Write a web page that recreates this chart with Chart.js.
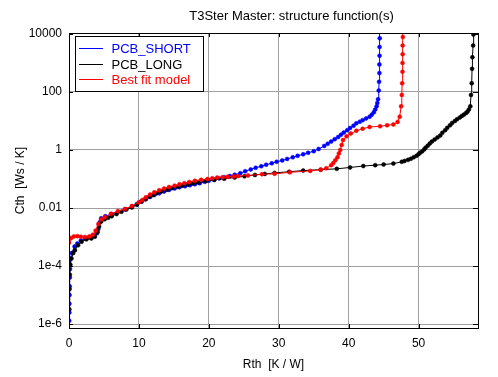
<!DOCTYPE html>
<html>
<head>
<meta charset="utf-8">
<script src="https://cdn.jsdelivr.net/npm/chart.js@4.4.1/dist/chart.umd.min.js"></script>
<style>
  html, body { margin: 0; padding: 0; background: #fff; }
  #wrap { width: 498px; height: 377px; }
</style>
</head>
<body>
<div id="wrap"><canvas id="chart" width="498" height="377"></canvas></div>
<script>
//..series: Rth [K/W] and Cth [Ws/K]
const shortRth = [0.03, 0.05, 0.06, 0.08, 0.1, 0.12, 0.15, 0.2, 0.4, 0.8, 1.2, 1.7, 2.3, 3.0, 3.6, 4.0, 4.2, 4.4, 4.6, 5.2,
    6.1, 7.0, 8.0, 9.0, 9.7, 10.4, 11.0, 11.6, 12.2, 12.9, 13.6, 14.3, 15.1, 15.8, 16.6, 17.3, 18.0, 18.7, 19.4, 20.0,
    20.7, 21.5, 22.2, 23.0, 23.7, 24.5, 25.2, 26.0, 26.7, 27.5, 28.2, 29.0, 29.7, 30.5, 31.2, 32.0, 32.7, 33.5, 34.2, 35.0,
    35.7, 36.5, 37.0, 37.5, 38.0, 38.5, 38.9, 39.3, 39.8, 40.2, 40.7, 41.1, 41.6, 42.0, 42.5, 43.0, 43.3, 43.6, 43.8, 44.0,
    44.1, 44.2, 44.3, 44.35, 44.4, 44.4, 44.42, 44.42, 44.45, 44.45];
const shortCth = [1.3e-6, 2.5e-6, 5.0e-6, 1.0e-5, 2.0e-5, 4.0e-5, 7.9e-5, 1.8e-4, 2.8e-4, 4.7e-4, 6.0e-4, 7.6e-4, 8.9e-4, 1.0e-3, 1.1e-3, 1.35e-3, 1.9e-3, 3.2e-3, 4.4e-3, 5.2e-3,
    6.2e-3, 7.4e-3, 8.9e-3, 0.0112, 0.0135, 0.0165, 0.020, 0.024, 0.028, 0.032, 0.037, 0.042, 0.047, 0.052, 0.056, 0.061, 0.066, 0.072, 0.080, 0.087,
    0.095, 0.105, 0.115, 0.126, 0.140, 0.158, 0.185, 0.214, 0.243, 0.275, 0.31, 0.347, 0.39, 0.437, 0.49, 0.56, 0.63, 0.71, 0.80, 0.91,
    1.08, 1.38, 1.63, 1.95, 2.35, 2.8, 3.35, 4.0, 4.8, 5.75, 6.9, 8.3, 9.5, 10.7, 12.3, 14.1, 16.5, 20, 25, 32,
    42, 56, 112, 224, 447, 890, 1780, 3550, 7080, 14100];

const longRth = [0.05, 0.08, 0.12, 0.2, 0.35, 0.6, 0.85, 1.3, 1.8, 2.5, 3.2, 3.7, 4.1, 4.3, 4.6, 5.1, 5.6, 6.1, 6.8, 7.5,
    8.2, 9.0, 9.7, 10.3, 10.9, 11.5, 12.0, 12.5, 13.2, 14.0, 14.7, 15.5, 16.2, 17.0, 17.7, 18.5, 19.6, 20.8, 22.2, 23.7,
    25.1, 26.6, 28.0, 29.4, 31.5, 33.5, 36.0, 38.3, 40.2, 42.1, 43.8, 45.0, 46.4, 47.6, 48.0, 48.5, 48.9, 49.3, 49.7, 50.0,
    50.2, 50.5, 50.8, 51.0, 51.3, 51.6, 51.9, 52.3, 52.7, 53.1, 53.4, 53.8, 54.1, 54.5, 54.8, 55.2, 55.5, 55.9, 56.2, 56.5,
    56.8, 57.0, 57.2, 57.4, 57.5, 57.6, 57.65, 57.7, 57.8, 57.85, 57.9];
const longCth = [3.2e-6, 1.6e-5, 5.0e-5, 1.1e-4, 1.8e-4, 2.8e-4, 3.5e-4, 5.2e-4, 6.9e-4, 8.3e-4, 8.9e-4, 1.02e-3, 1.5e-3, 2.3e-3, 3.4e-3, 4.1e-3, 4.6e-3, 5.2e-3, 6.2e-3, 7.4e-3,
    8.8e-3, 0.0105, 0.013, 0.0166, 0.020, 0.025, 0.028, 0.032, 0.037, 0.043, 0.048, 0.054, 0.059, 0.065, 0.070, 0.076, 0.085, 0.093, 0.102, 0.112,
    0.124, 0.138, 0.150, 0.162, 0.178, 0.195, 0.21, 0.224, 0.25, 0.28, 0.30, 0.316, 0.34, 0.39, 0.42, 0.457, 0.50, 0.56, 0.63, 0.72,
    0.80, 0.89, 1.05, 1.2, 1.4, 1.66, 1.95, 2.3, 2.7, 3.16, 3.9, 4.8, 5.8, 7.1, 8.5, 10, 11.5, 13.2, 15, 16.6,
    19, 21, 25, 32, 79, 200, 630, 1580, 4000, 9500, 20000];

const fitRth = [0.0, 0.05, 0.3, 0.7, 1.2, 1.7, 2.3, 2.9, 3.4, 3.8, 4.2, 4.6, 5.1, 6.0, 7.0, 8.0, 9.0, 10.0, 10.5, 11.0,
    11.6, 12.2, 12.9, 13.6, 14.3, 15.1, 15.8, 16.5, 17.2, 18.0, 18.9, 19.8, 20.5, 21.2, 22.0, 22.7, 23.5, 24.2, 25.6, 27.6,
    29.4, 31.6, 34.5, 36.0, 36.8, 37.5, 37.8, 38.1, 38.4, 38.6, 38.8, 39.0, 39.2, 39.7, 40.3, 41.1, 42.0, 43.0, 44.5, 45.5,
    46.4, 47.0, 47.3, 47.5, 47.6, 47.65, 47.7, 47.7, 47.72, 47.72, 47.75, 47.75];
const fitCth = [6.3e-4, 8.3e-4, 9.3e-4, 1.05e-3, 1.07e-3, 1.02e-3, 1.0e-3, 1.05e-3, 1.2e-3, 1.66e-3, 2.8e-3, 4.0e-3, 4.8e-3, 6.3e-3, 7.8e-3, 9.3e-3, 0.0117, 0.0158, 0.019, 0.0234,
    0.029, 0.0347, 0.041, 0.047, 0.053, 0.059, 0.066, 0.072, 0.079, 0.087, 0.094, 0.1, 0.106, 0.112, 0.116, 0.12, 0.123, 0.126, 0.132, 0.145,
    0.151, 0.17, 0.19, 0.21, 0.234, 0.30, 0.355, 0.447, 0.56, 0.76, 1.0, 1.5, 2.2, 2.95, 3.7, 4.6, 5.4, 6.2, 6.6, 7.1,
    7.6, 9.3, 14, 32, 79, 200, 500, 1000, 2000, 4000, 7900, 15800];

const seriesNames = ['PCB_SHORT', 'PCB_LONG', 'Best fit model'];
const seriesColors = ['#0000ff', '#000000', '#ff0000'];

const xTicks = [0, 10, 20, 30, 40, 50];
const yTicks = [1e-6, 1e-4, 1e-2, 1, 100, 10000];
const yTickLabels = ['1e-6', '1e-4', '0.01', '1', '100', '10000'];

const FONT = 'Liberation Sans, Arial, sans-serif';

function toPoints(xs, ys) {
    return xs.map((x, i) => ({ x: x, y: ys[i] }));
}

function makeSet(i, xs, ys, order) {
    return {
        label: seriesNames[i],
        data: toPoints(xs, ys),
        borderColor: seriesColors[i],
        backgroundColor: seriesColors[i],
        borderWidth: 1,
        pointRadius: 2,
        pointBorderWidth: 0.5,
        pointStyle: 'circle',
        showLine: true,
        tension: 0,
        order: order
    };
}

//..frame with inward tick marks, title and legend drawn over the plot
const framePlugin = {
    id: 'frame',
    afterDraw(chart) {
        const { ctx, chartArea: a } = chart;
        const xs = chart.scales.x, ys = chart.scales.y;
        ctx.save();
        ctx.strokeStyle = '#000';
        ctx.lineWidth = 1;
        ctx.strokeRect(a.left + 0.5, a.top + 0.5, a.right - a.left, a.bottom - a.top);
        ctx.beginPath();
        xTicks.forEach(v => {
            const px = Math.round(xs.getPixelForValue(v)) + 0.5;
            ctx.moveTo(px, a.bottom); ctx.lineTo(px, a.bottom - 4);
            ctx.moveTo(px, a.top); ctx.lineTo(px, a.top + 4);
        });
        yTicks.forEach(v => {
            const py = Math.round(ys.getPixelForValue(v)) + 0.5;
            ctx.moveTo(a.left, py); ctx.lineTo(a.left + 4, py);
            ctx.moveTo(a.right, py); ctx.lineTo(a.right - 5, py);
        });
        ctx.stroke();

        //..title
        ctx.fillStyle = '#000';
        ctx.font = '13px ' + FONT;
        ctx.textAlign = 'center';
        ctx.textBaseline = 'alphabetic';
        ctx.fillText('T3Ster Master: structure function(s)', 291.5, 19.5);

        //..legend box
        ctx.fillStyle = '#fff';
        ctx.fillRect(75.5, 36.5, 128, 55);
        ctx.strokeRect(75.5, 36.5, 128, 55);
        ctx.textAlign = 'left';
        ctx.textBaseline = 'middle';
        const rows = [48, 64, 79];
        seriesNames.forEach((name, i) => {
            ctx.strokeStyle = seriesColors[i];
            ctx.beginPath();
            ctx.moveTo(79, rows[i] + 0.5);
            ctx.lineTo(103, rows[i] + 0.5);
            ctx.stroke();
            ctx.fillStyle = seriesColors[i];
            ctx.fillText(name, 111.5, rows[i] + 1);
        });
        ctx.restore();
    }
};

new Chart(document.getElementById('chart'), {
    type: 'scatter',
    data: {
        datasets: [
            makeSet(0, shortRth, shortCth, 2),
            makeSet(1, longRth, longCth, 1),
            makeSet(2, fitRth, fitCth, 0)
        ]
    },
    options: {
        responsive: false,
        animation: false,
        devicePixelRatio: 1,
        events: [],
        layout: {
            padding: { left: 0, right: 20, top: 33, bottom: 0 }
        },
        plugins: {
            legend: { display: false },
            tooltip: { enabled: false },
            title: { display: false }
        },
        scales: {
            x: {
                type: 'linear',
                min: 0,
                max: 58.5,
                afterBuildTicks: s => { s.ticks = xTicks.map(v => ({ value: v })); },
                afterFit: s => { s.height = 49; },
                grid: { color: '#a0a0a0', lineWidth: 1, drawTicks: false },
                border: { display: false },
                ticks: {
                    color: '#000',
                    padding: 8,
                    maxRotation: 0,
                    font: { family: FONT, size: 12 }
                },
                title: {
                    display: true,
                    text: 'Rth  [K / W]',
                    color: '#000',
                    padding: { top: 0, bottom: 5 },
                    font: { family: FONT, size: 12 }
                }
            },
            y: {
                type: 'logarithmic',
                min: 7.3e-7,
                max: 1.08e4,
                afterBuildTicks: s => { s.ticks = yTicks.map(v => ({ value: v })); },
                afterFit: s => { s.width = 69; },
                grid: { color: '#a0a0a0', lineWidth: 1, drawTicks: false },
                border: { display: false },
                ticks: {
                    color: '#000',
                    padding: 7,
                    font: { family: FONT, size: 12 },
                    callback: v => {
                        const i = yTicks.findIndex(t => Math.abs(t - v) / t < 1e-6);
                        return i >= 0 ? yTickLabels[i] : '';
                    }
                },
                title: {
                    display: true,
                    text: 'Cth  [Ws / K]',
                    color: '#000',
                    padding: { top: 13, bottom: 0 },
                    font: { family: FONT, size: 12 }
                }
            }
        }
    },
    plugins: [framePlugin]
});
</script>
</body>
</html>
